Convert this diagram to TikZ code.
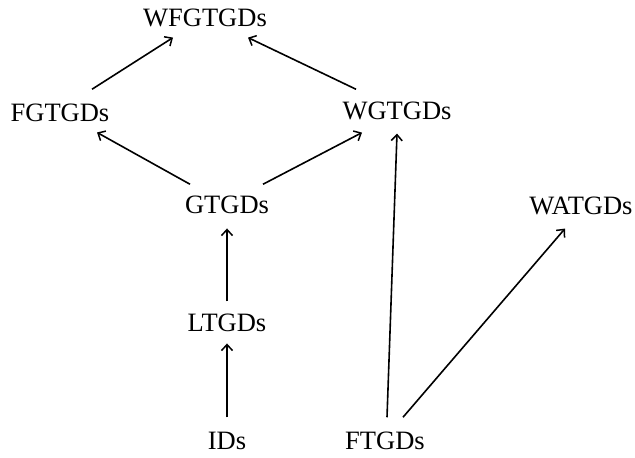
\documentclass[tikz,border=0pt]{standalone}
\usepackage{fontspec}
\setmainfont{Liberation Serif}
\usetikzlibrary{arrows.meta}
\begin{document}
\begin{tikzpicture}[x=1pt,y=1pt,
  lbl/.style={inner sep=0pt,anchor=base,font=\fontsize{26.5}{30}\selectfont},
  edge/.style={line width=1.6pt,-{Straight Barb[length=6pt,width=11pt,line width=1.5pt]}}]
\useasboundingbox (0,0) rectangle (635,458);
\node[lbl] (wf) at (205,431) {WFGTGDs};
\node[lbl] (fg) at (60,336) {FGTGDs};
\node[lbl] (wg) at (397,338) {WGTGDs};
\node[lbl] (gt) at (227,244) {GTGDs};
\node[lbl] (wa) at (581,243) {WATGDs};
\node[lbl] (lt) at (227,126) {LTGDs};
\node[lbl] (id) at (227,8) {IDs};
\node[lbl] (ft) at (385,8) {FTGDs};
\draw[edge] ([xshift=32pt,yshift=15pt]fg.north) -- ([xshift=-32pt,yshift=-10pt]wf.south);
\draw[edge] ([xshift=-41pt,yshift=13pt]wg.north) -- ([xshift=43pt,yshift=-10pt]wf.south);
\draw[edge] ([xshift=-37pt,yshift=12pt]gt.north) -- ([xshift=37pt,yshift=-10pt]fg.south);
\draw[edge] ([xshift=36pt,yshift=12pt]gt.north) -- ([xshift=-35pt,yshift=-12pt]wg.south);
\draw[edge] ([yshift=13pt]lt.north) -- ([yshift=-14pt]gt.south);
\draw[edge] ([yshift=15pt]id.north) -- ([yshift=-11pt]lt.south);
\draw[edge] ([xshift=2pt,yshift=15pt]ft.north) -- ([yshift=-13pt]wg.south);
\draw[edge] ([xshift=18pt,yshift=15pt]ft.north) -- ([xshift=-16pt,yshift=-13pt]wa.south);
\end{tikzpicture}
\end{document}
